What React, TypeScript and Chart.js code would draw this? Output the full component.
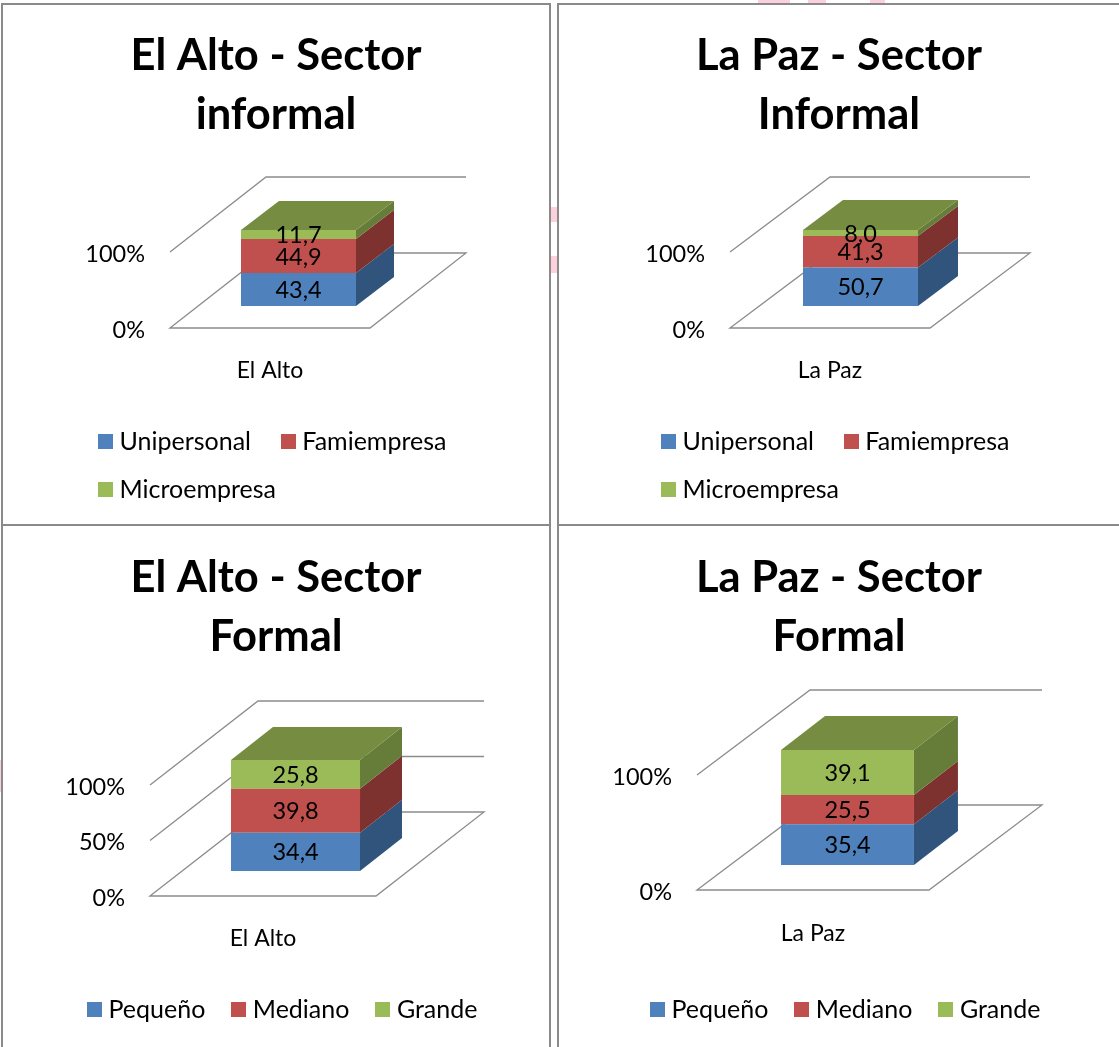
import React, { useEffect, useRef } from "react";
import { Chart, registerables } from "chart.js";

Chart.register(...registerables);

const informalSeries = ["Unipersonal", "Famiempresa", "Microempresa"];
const formalSeries = ["Pequeño", "Mediano", "Grande"];
const elAltoInformal = [43.4, 44.9, 11.7];
const laPazInformal = [50.7, 41.3, 8.0];
const elAltoFormal = [34.4, 39.8, 25.8];
const laPazFormal = [35.4, 25.5, 39.1];
const frontColors = ["#4f81bd", "#c0504d", "#9bbb59"];
const sideColors = ["#31547c", "#7d3230", "#667c39"];
const topColor = "#768c40";
const FONT = "Lato, Carlito, sans-serif";

type Cfg = {
  box: number[]; title: string[]; titlePad: number; category: string; names: string[]; values: number[]; step: number;
  area: number[]; wall: number[]; shift: number[]; depth: number[]; barFrac: number;
  legend: number[]; legendPad: number; gapSpaces: number; tickPad: number; xPad: number;
};

const panels: Cfg[] = [
  { box: [1, 3, 550, 523], title: ["El Alto - Sector", "informal"], titlePad: 23, category: "El Alto", names: informalSeries, values: elAltoInformal, step: 100,
    area: [170, 252, 370, 328], wall: [96, -75], shift: [28.5, -22], depth: [38, -29], barFrac: 0.575,
    legend: [98, 441.5], legendPad: 23, gapSpaces: 2, tickPad: 25, xPad: 29 },
  { box: [557, 3, 564, 523], title: ["La Paz - Sector", "Informal"], titlePad: 23, category: "La Paz", names: informalSeries, values: laPazInformal, step: 100,
    area: [730, 252, 930, 328], wall: [100, -75], shift: [30.5, -22], depth: [40, -30], barFrac: 0.575,
    legend: [661, 441.5], legendPad: 23, gapSpaces: 2, tickPad: 25, xPad: 29 },
  { box: [1, 524, 550, 530], title: ["El Alto - Sector", "Formal"], titlePad: 24, category: "El Alto", names: formalSeries, values: elAltoFormal, step: 50,
    area: [150, 785, 376, 896], wall: [108, -84], shift: [32.5, -25], depth: [42, -33], barFrac: 0.571,
    legend: [87, 1009.5], legendPad: 32, gapSpaces: 0, tickPad: 25, xPad: 29 },
  { box: [557, 524, 564, 530], title: ["La Paz - Sector", "Formal"], titlePad: 24, category: "La Paz", names: formalSeries, values: laPazFormal, step: 100,
    area: [697, 775, 929, 890], wall: [113, -85], shift: [34.5, -25], depth: [44, -34], barFrac: 0.573,
    legend: [650, 1009.5], legendPad: 32, gapSpaces: 0, tickPad: 25, xPad: 30 },
];

const LEGEND_FONT = 25;
const TITLE_FONT = 43.5;
const TITLE_LINE = 59;
const SWATCH = 15;
const MARKER_WIDTH = 3;

function swatch(color: string) {
  const c = document.createElement("canvas");
  c.width = SWATCH;
  c.height = SWATCH;
  const g = c.getContext("2d")!;
  g.fillStyle = color;
  g.fillRect(0, 0, SWATCH, SWATCH);
  return c;
}

function depthPlugin(cfg: Cfg) {
  return {
    id: "depth3d",
    afterLayout(chart: any) {
      const l = chart.legend;
      const ox = cfg.box[0], oy = cfg.box[1];
      const p = cfg.legendPad;
      l.left = cfg.legend[0] - ox + (SWATCH - MARKER_WIDTH) / 2 - p;
      l.right = chart.width;
      l.top = cfg.legend[1] - oy - p - LEGEND_FONT / 2;
      l.bottom = chart.height;
      const t = chart.titleBlock;
      t.left = 0;
      t.right = chart.width;
    },
    beforeDraw(chart: any) {
      chart.scales.y.getLabelItems().forEach((it: any) => {
        it.options.translation[1] += 2;
      });
    },
    beforeDatasetsDraw(chart: any) {
      const { ctx, chartArea: a, scales } = chart;
      const [wx, wy] = cfg.wall;
      const [sx, sy] = cfg.shift;
      const [dx, dy] = cfg.depth;
      ctx.save();
      ctx.strokeStyle = "#8c8c8c";
      ctx.lineWidth = 1.3;
      scales.y.ticks.forEach((t: any) => {
        const y = scales.y.getPixelForValue(t.value);
        ctx.beginPath();
        ctx.moveTo(a.left, y);
        ctx.lineTo(a.left + wx, y + wy);
        ctx.lineTo(a.right + wx, y + wy);
        if (t.value === 0) {
          ctx.lineTo(a.right, y);
          ctx.closePath();
        }
        ctx.stroke();
      });
      ctx.translate(sx, sy);
      chart.data.datasets.forEach((_: any, i: number) => {
        const el = chart.getDatasetMeta(i).data[0];
        const x0 = el.x - el.width / 2;
        const x1 = el.x + el.width / 2;
        ctx.fillStyle = sideColors[i];
        ctx.beginPath();
        ctx.moveTo(x1, el.base);
        ctx.lineTo(x1 + dx, el.base + dy);
        ctx.lineTo(x1 + dx, el.y + dy);
        ctx.lineTo(x1, el.y);
        ctx.closePath();
        ctx.fill();
        if (i === chart.data.datasets.length - 1) {
          ctx.fillStyle = topColor;
          ctx.beginPath();
          ctx.moveTo(x0, el.y);
          ctx.lineTo(x0 + dx, el.y + dy);
          ctx.lineTo(x1 + dx, el.y + dy);
          ctx.lineTo(x1, el.y);
          ctx.closePath();
          ctx.fill();
        }
      });
      // the shift stays in place for the library's own bars
    },
    afterDatasetsDraw(chart: any) {
      const { ctx } = chart;
      ctx.font = `23.5px ${FONT}`;
      ctx.fillStyle = "#000";
      ctx.textAlign = "center";
      ctx.textBaseline = "middle";
      chart.data.datasets.forEach((ds: any, i: number) => {
        const el = chart.getDatasetMeta(i).data[0];
        const text = ds.data[0].toFixed(1).replace(".", ",");
        ctx.fillText(text, el.x, (el.y + el.base) / 2 + 1);
      });
      ctx.restore();
    },
  };
}

function Panel({ cfg }: { cfg: Cfg }) {
  const ref = useRef<HTMLCanvasElement>(null);
  useEffect(() => {
    const [ox, oy, w, h] = cfg.box;
    const canvas = ref.current!;
    const left = cfg.area[0] - ox;
    const top = cfg.area[1] - oy;
    const right = cfg.area[2] - ox;
    const bottom = cfg.area[3] - oy;
    const chart = new Chart(canvas, {
      type: "bar",
      data: {
        labels: [cfg.category],
        datasets: cfg.names.map((name, i) => ({
          label: name,
          data: [cfg.values[i]],
          backgroundColor: frontColors[i],
          borderWidth: 0,
          clip: false as any,
          barPercentage: cfg.barFrac,
          categoryPercentage: 1,
        })),
      },
      plugins: [depthPlugin(cfg)],
      options: {
        responsive: false,
        animation: false,
        events: [],
        layout: { padding: { left: 0, top: 0, bottom: 0, right: w - right } },
        plugins: {
          tooltip: { enabled: false },
          title: {
            display: true,
            text: cfg.title,
            color: "#000",
            font: { family: FONT, size: TITLE_FONT, weight: "bold", lineHeight: TITLE_LINE / TITLE_FONT },
            padding: { top: cfg.titlePad, bottom: top - cfg.titlePad - 2 * TITLE_LINE },
          },
          legend: {
            display: true,
            position: "bottom",
            align: "start",
            maxHeight: 10,
            labels: {
              color: "#000",
              usePointStyle: true,
              pointStyleWidth: MARKER_WIDTH,
              boxHeight: SWATCH,
              padding: cfg.legendPad,
              font: { family: FONT, size: LEGEND_FONT },
              generateLabels(c: any) {
                return c.data.datasets.map((ds: any, i: number) => ({
                  text: ds.label + (i === 0 ? "\u00a0".repeat(cfg.gapSpaces) : ""),
                  fillStyle: frontColors[i],
                  strokeStyle: frontColors[i],
                  pointStyle: swatch(frontColors[i]),
                  lineWidth: 0,
                  fontColor: "#000",
                  hidden: false,
                  datasetIndex: i,
                }));
              },
            },
          },
        },
        scales: {
          x: {
            stacked: true,
            grid: { display: false, drawTicks: false },
            border: { display: false },
            ticks: { color: "#000", padding: cfg.xPad, font: { family: FONT, size: 23 } },
            afterFit(scale: any) {
              scale.height = h - scale.chart.legend.height - bottom;
            },
          },
          y: {
            stacked: true,
            min: 0,
            max: 100,
            grid: { display: false, drawTicks: false },
            border: { display: false },
            ticks: {
              color: "#000",
              stepSize: cfg.step,
              padding: cfg.tickPad,
              autoSkip: false,
              font: { family: FONT, size: 23.5 },
              callback: (v: any) => `${v}%`,
            },
            afterFit(scale: any) {
              scale.width = left;
            },
          },
        },
      },
    } as any);
    return () => chart.destroy();
  }, [cfg]);
  const [x, y, w, h] = cfg.box;
  return (
    <div style={{ position: "absolute", left: x, top: y, width: w, height: h }}>
      <div style={{ position: "absolute", inset: 0, boxSizing: "border-box", border: "2px solid #8a8a8a" }} />
      <canvas ref={ref} width={w} height={h} style={{ position: "absolute", left: 0, top: 0, display: "block" }} />
    </div>
  );
}

const stains = [
  [551, 207, 6, 15], [551, 256, 6, 17], [758, 0, 32, 3], [808, 0, 18, 3], [870, 0, 15, 3], [0, 760, 1, 32],
];

export default function App() {
  useEffect(() => {
    document.body.style.margin = "0";
    document.body.style.overflow = "hidden";
  }, []);
  return (
    <div style={{ position: "absolute", left: 0, top: 0, width: 1119, height: 1047, overflow: "hidden", background: "#fff" }}>
      {stains.map((s, i) => (
        <div key={i} style={{ position: "absolute", left: s[0], top: s[1], width: s[2], height: s[3], background: "#fcd0dc" }} />
      ))}
      {panels.map((p, i) => (
        <Panel key={i} cfg={p} />
      ))}
    </div>
  );
}
